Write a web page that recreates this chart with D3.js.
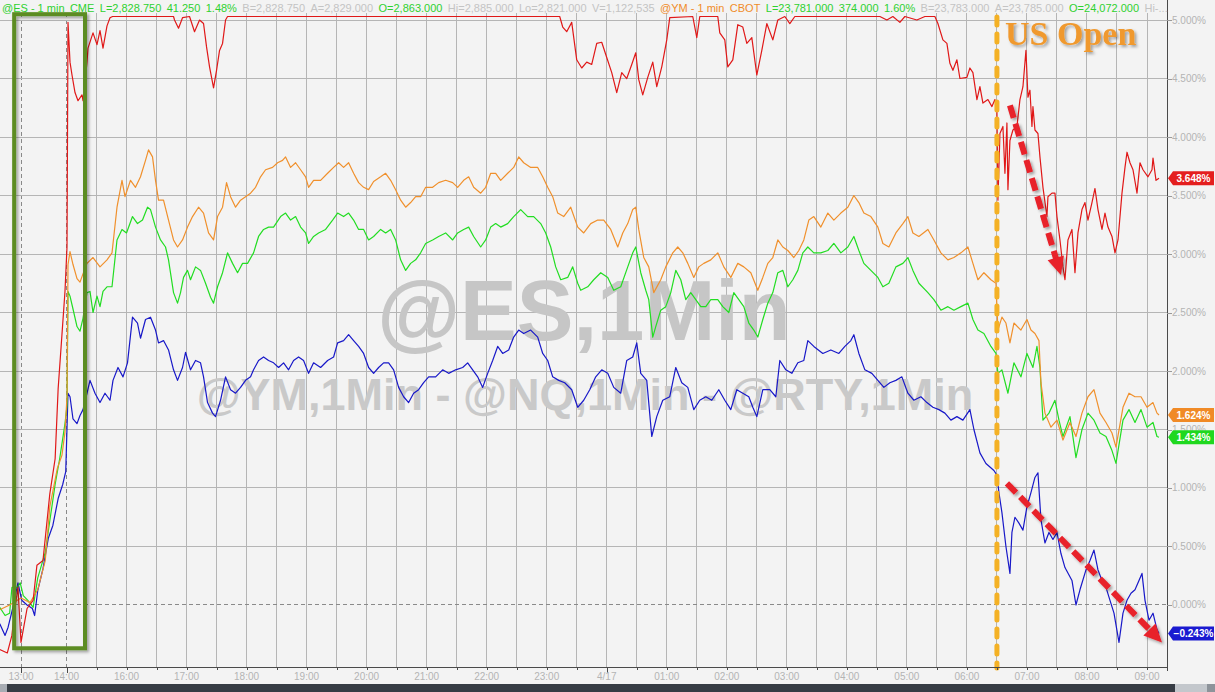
<!DOCTYPE html>
<html><head><meta charset="utf-8">
<script src="https://cdn.jsdelivr.net/npm/d3@7"></script>
<style>html,body{margin:0;padding:0;background:#f3f3f3;overflow:hidden}svg{display:block}</style>
</head><body><svg id="c" width="1215" height="692"></svg>
<script>
// ---- DATA: time = minutes after 12:00 on 4/16, value = % change ----
const rty = [[32,-0.38],[42,-0.41],[48,-0.26],[52,-0.03],[56,0.15],[60,-0.32],[68,-0.03],[76,0.04],[81,0.34],[89,0.38],[98,0.95],[105,1.25],[109,1.85],[114,2.31],[118,2.68],[121,3.06],[123,4.98],[127,4.64],[131,4.53],[137,4.38],[143,4.31],[151,4.36],[153,4.31],[161,4.64],[163,4.76],[173,4.89],[181,4.79],[187,4.91],[193,4.76],[201,4.95],[207,5.02],[212,5.03],[287,5.03],[288,5.00],[292,4.93],[296,5.02],[303,5.03],[308,4.90],[313,5.00],[317,4.97],[320,4.77],[323,4.60],[327,4.42],[330,4.57],[333,4.74],[336,4.80],[339,5.00],[341,5.03],[673,5.03],[676,4.94],[680,4.90],[685,4.98],[690,4.66],[695,4.59],[700,4.64],[705,4.62],[710,4.80],[715,4.81],[720,4.68],[725,4.55],[730,4.38],[735,4.55],[740,4.50],[745,4.62],[749,4.72],[752,4.49],[756,4.36],[761,4.51],[766,4.64],[770,4.43],[775,4.60],[780,4.83],[783,5.02],[806,5.03],[810,4.85],[813,5.03],[831,5.03],[833,4.89],[838,4.83],[841,4.60],[846,4.66],[851,4.96],[856,4.94],[860,4.80],[865,4.85],[870,4.53],[875,4.74],[880,4.97],[886,4.83],[891,5.00],[898,5.03],[903,4.97],[908,5.03],[993,5.03],[1000,5.00],[1006,5.03],[1013,4.98],[1018,5.03],[1030,5.00],[1038,5.03],[1048,5.03],[1051,4.97],[1056,4.83],[1060,4.80],[1063,4.63],[1066,4.57],[1070,4.66],[1073,4.50],[1080,4.51],[1083,4.59],[1086,4.55],[1090,4.32],[1093,4.43],[1096,4.29],[1101,4.32],[1105,4.26],[1108,4.32],[1110,4.23],[1111,3.46],[1113,4.03],[1116,4.09],[1118,3.69],[1120,4.12],[1121,3.55],[1123,3.97],[1126,4.06],[1130,4.09],[1133,4.32],[1136,4.43],[1139,4.74],[1141,4.34],[1143,4.40],[1145,4.09],[1146,4.26],[1148,4.06],[1151,4.03],[1153,3.83],[1156,3.57],[1160,3.32],[1161,3.49],[1165,3.52],[1168,3.52],[1170,3.32],[1173,3.12],[1176,2.89],[1178,2.78],[1181,3.12],[1185,3.21],[1188,2.84],[1191,3.18],[1195,3.38],[1198,3.44],[1201,3.29],[1205,3.44],[1208,3.56],[1211,3.38],[1215,3.21],[1218,3.35],[1221,3.23],[1225,3.15],[1228,3.01],[1231,3.12],[1235,3.52],[1238,3.74],[1240,3.87],[1243,3.78],[1246,3.72],[1250,3.52],[1253,3.78],[1256,3.72],[1261,3.66],[1265,3.72],[1266,3.82],[1269,3.63],[1272,3.648]];
const ym = [[32,-0.04],[45,0.00],[60,0.06],[72,0.02],[82,0.13],[92,0.38],[98,0.84],[108,1.17],[114,1.28],[118,1.48],[121,1.78],[123,2.91],[127,3.02],[133,2.91],[141,2.79],[147,2.76],[153,2.83],[161,2.92],[173,2.97],[187,2.89],[201,2.95],[211,3.01],[221,3.40],[231,3.63],[237,3.49],[244,3.63],[249,3.57],[254,3.66],[259,3.80],[262,3.89],[266,3.83],[269,3.63],[272,3.46],[277,3.46],[282,3.29],[287,3.12],[291,3.06],[296,3.12],[301,3.23],[306,3.32],[312,3.40],[317,3.35],[322,3.18],[327,3.12],[331,3.32],[336,3.40],[340,3.61],[344,3.49],[349,3.40],[354,3.46],[359,3.49],[364,3.52],[369,3.57],[374,3.66],[379,3.72],[386,3.74],[391,3.78],[396,3.80],[399,3.83],[404,3.74],[409,3.78],[414,3.72],[419,3.66],[422,3.57],[427,3.63],[434,3.63],[441,3.69],[447,3.74],[452,3.78],[457,3.74],[462,3.78],[467,3.69],[472,3.61],[477,3.57],[482,3.55],[487,3.62],[494,3.66],[499,3.69],[504,3.63],[509,3.55],[514,3.46],[519,3.40],[524,3.44],[529,3.49],[534,3.49],[539,3.57],[546,3.57],[552,3.61],[559,3.63],[566,3.61],[571,3.57],[577,3.63],[582,3.66],[587,3.57],[594,3.52],[599,3.57],[604,3.69],[609,3.69],[614,3.63],[621,3.69],[627,3.74],[632,3.83],[637,3.78],[644,3.74],[651,3.74],[656,3.66],[661,3.57],[666,3.49],[671,3.35],[677,3.32],[684,3.40],[691,3.23],[697,3.18],[704,3.26],[711,3.29],[717,3.29],[724,3.21],[731,3.06],[736,3.18],[741,3.26],[746,3.38],[749,3.40],[752,3.21],[757,2.97],[762,2.89],[767,2.67],[774,2.78],[779,2.89],[786,3.01],[791,3.06],[796,3.01],[801,2.92],[807,2.80],[812,2.89],[817,2.92],[824,2.95],[831,3.01],[837,2.89],[844,2.80],[851,2.92],[857,2.89],[864,2.84],[871,2.69],[876,2.80],[881,2.92],[886,2.97],[891,3.12],[896,3.06],[901,3.03],[907,2.97],[912,3.03],[917,3.12],[922,3.29],[927,3.32],[934,3.23],[941,3.35],[947,3.29],[954,3.35],[961,3.40],[967,3.50],[972,3.44],[977,3.35],[984,3.32],[991,3.23],[996,3.09],[1002,3.06],[1009,3.18],[1016,3.26],[1021,3.32],[1026,3.18],[1032,3.15],[1041,3.21],[1047,3.12],[1054,3.01],[1061,2.95],[1067,2.97],[1074,3.01],[1081,3.06],[1086,2.92],[1091,2.78],[1097,2.84],[1104,2.78],[1109,2.75],[1111,2.35],[1115,2.46],[1119,2.41],[1123,2.24],[1127,2.41],[1134,2.35],[1140,2.44],[1144,2.35],[1148,2.32],[1152,2.26],[1154,1.90],[1158,1.64],[1164,1.52],[1170,1.58],[1176,1.41],[1183,1.56],[1189,1.44],[1195,1.64],[1201,1.78],[1207,1.84],[1213,1.64],[1219,1.56],[1225,1.47],[1229,1.35],[1236,1.69],[1242,1.81],[1248,1.78],[1254,1.78],[1260,1.69],[1266,1.73],[1270,1.64],[1272,1.624]];
const es = [[32,-0.02],[39,-0.09],[45,-0.07],[48,0.15],[55,0.15],[59,0.19],[63,0.08],[69,0.04],[76,-0.02],[82,0.23],[92,0.45],[98,0.72],[105,1.03],[111,1.25],[118,1.55],[121,1.70],[123,2.68],[127,2.64],[133,2.53],[141,2.38],[147,2.34],[153,2.45],[161,2.67],[167,2.68],[173,2.50],[181,2.64],[187,2.55],[193,2.68],[201,2.72],[211,2.72],[221,3.12],[231,3.21],[240,3.18],[246,3.32],[251,3.26],[256,3.29],[261,3.40],[264,3.38],[269,3.23],[274,3.12],[279,3.06],[282,2.95],[287,2.67],[291,2.58],[294,2.67],[297,2.80],[301,2.86],[304,2.78],[309,2.89],[314,2.86],[319,2.75],[324,2.63],[327,2.58],[331,2.72],[336,2.84],[341,3.01],[346,2.92],[351,2.84],[356,2.92],[361,2.92],[367,3.01],[372,3.15],[377,3.21],[382,3.23],[387,3.23],[394,3.32],[399,3.35],[404,3.29],[409,3.32],[414,3.23],[419,3.18],[422,3.09],[427,3.15],[432,3.18],[439,3.21],[446,3.29],[451,3.35],[457,3.32],[462,3.35],[467,3.29],[472,3.21],[477,3.21],[482,3.12],[487,3.15],[494,3.21],[499,3.18],[504,3.21],[509,3.12],[514,2.95],[519,2.86],[524,2.92],[529,2.95],[534,3.01],[539,3.09],[546,3.12],[552,3.15],[559,3.18],[566,3.12],[571,3.18],[577,3.21],[582,3.23],[587,3.15],[594,3.06],[599,3.12],[604,3.23],[609,3.26],[614,3.23],[621,3.26],[627,3.32],[634,3.38],[641,3.32],[647,3.32],[654,3.26],[659,3.18],[664,3.06],[669,2.89],[674,2.78],[681,2.80],[686,2.89],[691,2.75],[694,2.69],[701,2.72],[707,2.78],[714,2.84],[721,2.80],[727,2.69],[734,2.72],[741,2.89],[746,3.01],[749,3.06],[754,2.84],[759,2.69],[762,2.61],[766,2.29],[769,2.38],[774,2.52],[779,2.55],[784,2.67],[789,2.86],[794,2.78],[799,2.61],[804,2.67],[809,2.61],[814,2.55],[819,2.55],[824,2.61],[831,2.61],[836,2.55],[842,2.50],[847,2.67],[852,2.61],[857,2.55],[862,2.41],[867,2.35],[871,2.29],[876,2.44],[881,2.58],[886,2.67],[891,2.84],[896,2.86],[901,2.72],[906,2.78],[911,2.86],[916,3.01],[921,3.06],[927,3.01],[934,3.01],[941,3.03],[947,3.09],[954,3.01],[961,3.06],[967,3.15],[972,3.03],[977,2.92],[984,2.86],[991,2.80],[996,2.72],[1002,2.75],[1009,2.89],[1016,2.92],[1021,2.97],[1026,2.86],[1032,2.75],[1041,2.67],[1047,2.61],[1054,2.52],[1061,2.55],[1067,2.52],[1074,2.55],[1081,2.58],[1086,2.44],[1091,2.35],[1097,2.32],[1104,2.21],[1109,2.15],[1111,1.98],[1115,2.01],[1121,1.81],[1127,2.07],[1134,1.95],[1140,2.15],[1146,2.03],[1150,2.21],[1153,2.03],[1156,1.58],[1162,1.64],[1168,1.75],[1172,1.58],[1176,1.44],[1183,1.61],[1189,1.26],[1195,1.50],[1201,1.64],[1207,1.58],[1213,1.47],[1219,1.44],[1225,1.32],[1229,1.21],[1236,1.58],[1242,1.67],[1248,1.56],[1254,1.67],[1260,1.52],[1266,1.56],[1270,1.44],[1272,1.434]];
const nq = [[32,-0.16],[39,-0.26],[43,-0.19],[49,-0.03],[56,0.19],[61,0.04],[68,0.00],[75,-0.03],[78,-0.09],[82,0.12],[89,0.31],[96,0.57],[102,0.68],[109,0.91],[115,1.03],[119,1.14],[123,1.81],[127,1.78],[133,1.59],[141,1.55],[147,1.62],[153,1.67],[161,1.81],[167,1.92],[177,1.81],[187,1.73],[197,1.81],[207,1.75],[213,1.92],[223,2.03],[233,1.95],[241,2.07],[246,2.46],[251,2.41],[254,2.28],[259,2.44],[264,2.46],[269,2.35],[272,2.24],[277,2.26],[282,2.18],[287,2.01],[291,1.92],[296,2.03],[299,2.16],[304,2.01],[309,2.09],[314,2.07],[317,1.95],[321,1.73],[326,1.64],[329,1.61],[334,1.75],[339,1.95],[344,1.84],[349,1.81],[354,1.86],[359,1.92],[364,1.95],[367,2.01],[372,2.09],[377,2.12],[382,2.09],[387,2.07],[392,2.03],[397,2.07],[402,2.01],[407,2.09],[412,2.12],[417,2.09],[422,1.98],[427,2.07],[434,2.03],[441,2.09],[447,2.12],[451,2.24],[457,2.26],[462,2.31],[467,2.26],[472,2.21],[477,2.15],[482,2.03],[487,1.98],[492,2.03],[497,2.07],[502,2.07],[507,2.01],[512,1.86],[517,1.78],[522,1.73],[527,1.81],[532,1.84],[537,1.90],[542,1.95],[549,1.95],[556,2.01],[562,1.98],[569,2.01],[576,2.03],[581,2.07],[586,2.01],[591,1.95],[596,1.86],[601,1.98],[606,2.09],[611,2.21],[616,2.15],[622,2.18],[627,2.29],[632,2.35],[637,2.32],[644,2.35],[651,2.29],[656,2.15],[661,2.09],[666,1.95],[672,1.92],[678,1.90],[685,1.84],[691,1.69],[697,1.75],[703,1.84],[709,1.95],[715,2.01],[721,1.98],[727,1.86],[734,1.81],[740,2.09],[746,2.12],[750,2.24],[754,1.98],[760,1.92],[765,1.44],[770,1.61],[776,1.75],[783,1.78],[789,2.03],[795,1.90],[801,1.86],[807,1.67],[813,1.75],[819,1.78],[825,1.75],[832,1.84],[838,1.75],[844,1.67],[850,1.84],[856,1.81],[862,1.78],[866,1.69],[870,1.61],[876,1.84],[883,1.84],[889,1.78],[893,2.09],[899,2.01],[905,1.98],[911,2.07],[917,2.09],[921,2.26],[927,2.21],[936,2.15],[944,2.18],[952,2.15],[958,2.21],[964,2.26],[967,2.31],[972,2.15],[978,2.01],[985,1.98],[991,1.92],[997,1.86],[1003,1.90],[1009,1.92],[1015,1.95],[1021,1.81],[1027,1.75],[1034,1.78],[1040,1.73],[1046,1.69],[1052,1.67],[1058,1.64],[1064,1.58],[1070,1.61],[1076,1.58],[1083,1.67],[1087,1.50],[1093,1.30],[1099,1.21],[1103,1.18],[1107,1.15],[1110,1.11],[1112,0.96],[1115,0.79],[1119,0.50],[1123,0.27],[1125,0.62],[1128,0.75],[1132,0.70],[1136,0.64],[1140,0.84],[1144,0.96],[1148,1.09],[1151,1.13],[1154,0.73],[1158,0.53],[1162,0.62],[1166,0.56],[1170,0.62],[1174,0.44],[1178,0.32],[1185,0.21],[1189,0.00],[1193,0.13],[1199,0.30],[1203,0.38],[1207,0.47],[1211,0.30],[1215,0.21],[1219,0.15],[1223,0.04],[1227,-0.07],[1232,-0.32],[1236,-0.07],[1240,0.04],[1244,0.10],[1248,0.13],[1252,0.21],[1255,0.27],[1258,0.04],[1262,-0.13],[1266,-0.07],[1270,-0.21],[1272,-0.243]];

const xLabelTimes = [60,120,240,300,360,420,480,540,600,660,720,780,840,900,960,1020,1080,1140,1200,1260];
const xLabelTexts = ["13:00","14:00","16:00","17:00","18:00","19:00","20:00","21:00","22:00","23:00","4/17","01:00","02:00","03:00","04:00","05:00","06:00","07:00","08:00","09:00"];
const yTickValues = [0,0.5,1,1.5,2,2.5,3,3.5,4,4.5,5];
const headerTexts = ["@ES - 1 min","CME","L=2,828.750","41.250","1.48%","B=2,828.750","A=2,829.000","O=2,863.000","Hi=2,885.000","Lo=2,821.000","V=1,122,535","@YM - 1 min","CBOT","L=23,781.000","374.000","1.60%","B=23,783.000","A=23,785.000","O=24,072.000","Hi-..."];
const headerKinds = ["es","es","up","up","up","dim","dim","up","dim","dim","dim","ym","ym","up","up","up","dim","dim","up","dim"];
const usOpenTime = 1110;
const boxStart = 51, boxEnd = 157, boxTop = 5.05, boxBottom = -0.37;
const arrows = [[[1123,4.27],[1174,2.82]],[[1120,1.04],[1275,-0.32]]];

// ---- DRAW ----
const svg = d3.select("#c");
const W = 1215, H = 692, plotR = 1167, plotB = 667, plotT = 13;
const x = d3.scaleLinear().domain([60,120,240,1260]).range([21,66.5,126.5,1147]);
const y = d3.scaleLinear().domain([-0.53,5.06]).range([plotB,plotT]);
const FONT = "'Liberation Sans', Arial, sans-serif";

svg.append("rect").attr("width",W).attr("height",H).attr("fill","#f3f3f3");
const defs = svg.append("defs");
defs.append("clipPath").attr("id","clip").append("rect").attr("x",0).attr("y",0).attr("width",plotR).attr("height",plotB);
const sh = defs.append("filter").attr("id","shadow").attr("x","-20%").attr("y","-20%").attr("width","140%").attr("height","140%");
sh.append("feDropShadow").attr("dx",2).attr("dy",2).attr("stdDeviation",1.5).attr("flood-color","#000").attr("flood-opacity",0.35);

// grid
const gridTicks = [180].concat(d3.range(240,1261,30));
const g = svg.append("g");
g.selectAll("line.v").data(gridTicks).join("line")
  .attr("x1",d=>x(d)).attr("x2",d=>x(d)).attr("y1",plotT).attr("y2",plotB)
  .attr("stroke","#b5b5b5").attr("stroke-width",1).attr("shape-rendering","crispEdges");
g.selectAll("line.vd").data([60,120]).join("line")
  .attr("x1",d=>x(d)).attr("x2",d=>x(d)).attr("y1",plotT).attr("y2",plotB)
  .attr("stroke","#8a8a8a").attr("stroke-dasharray","4,3").attr("stroke-width",1).attr("shape-rendering","crispEdges");
g.selectAll("line.h").data(yTickValues).join("line")
  .attr("x1",0).attr("x2",plotR).attr("y1",d=>y(d)).attr("y2",d=>y(d))
  .attr("stroke",d=>d===0?"#8a8a8a":"#b5b5b5").attr("stroke-dasharray",d=>d===0?"4,3":null)
  .attr("shape-rendering","crispEdges");

// watermark
svg.append("text").attr("x",584).attr("y",340).attr("text-anchor","middle")
  .attr("font-family",FONT).attr("font-weight","bold").attr("font-size",85)
  .attr("fill","#c6c6c6").text("@ES,1Min");
svg.append("text").attr("x",585).attr("y",410).attr("text-anchor","middle")
  .attr("font-family",FONT).attr("font-weight","bold").attr("font-size",45)
  .attr("fill","#c9c9c9").text("@YM,1Min - @NQ,1Min - @RTY,1Min");

// series
const line = d3.line().x(d=>x(d[0])).y(d=>y(d[1]));
const series = [[nq,"#1818c8"],[es,"#22dd22"],[ym,"#f0902c"],[rty,"#e01818"]];
const lg = svg.append("g").attr("clip-path","url(#clip)");
series.forEach(([data,col])=>{
  lg.append("path").datum(data).attr("d",line).attr("fill","none").attr("stroke",col).attr("stroke-width",1.2).attr("stroke-linejoin","round");
});

// green box
svg.append("rect").attr("x",x(boxStart)).attr("y",y(boxTop)).attr("width",x(boxEnd)-x(boxStart)).attr("height",y(boxBottom)-y(boxTop))
  .attr("fill","none").attr("stroke","#5b8c22").attr("stroke-width",4).attr("filter","url(#shadow)");

// US open line
svg.append("line").attr("x1",x(usOpenTime)).attr("x2",x(usOpenTime)).attr("y1",17).attr("y2",668)
  .attr("stroke","#f4b125").attr("stroke-width",5).attr("stroke-dasharray","8,9").attr("stroke-linecap","round");
svg.append("text").attr("x",1005).attr("y",45).attr("font-family","'Liberation Serif','Times New Roman',serif")
  .attr("font-weight","bold").attr("font-size",34).attr("fill","#f0992e").attr("filter","url(#shadow)").text("US Open");

// red arrows
arrows.forEach(([s,e])=>{
  const sx=x(s[0]), sy=y(s[1]), ex=x(e[0]), ey=y(e[1]);
  const dx=ex-sx, dy=ey-sy, L=Math.hypot(dx,dy), ux=dx/L, uy=dy/L, nx=-uy, ny=ux;
  const hl=18, hw=8.5, bx=ex-ux*hl, by=ey-uy*hl;
  const ag = svg.append("g").attr("filter","url(#shadow)");
  ag.append("line").attr("x1",sx).attr("y1",sy).attr("x2",bx+ux*2).attr("y2",by+uy*2)
    .attr("stroke","#e8202a").attr("stroke-width",6).attr("stroke-dasharray","13,6");
  ag.append("path").attr("d",`M${ex},${ey}L${bx+nx*hw},${by+ny*hw}L${bx-nx*hw},${by-ny*hw}Z`).attr("fill","#e8202a");
});

// axes
svg.append("line").attr("x1",plotR+0.5).attr("x2",plotR+0.5).attr("y1",0).attr("y2",plotB+4).attr("stroke","#4a4a4a");
svg.append("line").attr("x1",0).attr("x2",plotR).attr("y1",plotB+0.5).attr("y2",plotB+0.5).attr("stroke","#4a4a4a");
svg.selectAll("line.yt").data(yTickValues).join("line")
  .attr("x1",plotR).attr("x2",plotR+5).attr("y1",d=>Math.round(y(d))+0.5).attr("y2",d=>Math.round(y(d))+0.5).attr("stroke","#9a9a9a");
svg.selectAll("text.yl").data(yTickValues).join("text")
  .attr("x",plotR+5).attr("y",d=>y(d)).attr("dy","0.35em")
  .attr("font-family",FONT).attr("font-size",10).attr("fill","#b4b4b4")
  .text(d=>d3.format(".3f")(d)+"%");
const allTicks = [60,120].concat(gridTicks);
svg.selectAll("line.xt").data(allTicks).join("line")
  .attr("x1",d=>Math.round(x(d))+0.5).attr("x2",d=>Math.round(x(d))+0.5)
  .attr("y1",plotB).attr("y2",d=>(d===60||d===120||d===720)?plotB+6:plotB+3).attr("stroke","#4a4a4a");
svg.selectAll("text.xl").data(xLabelTimes).join("text")
  .attr("x",d=>x(d)).attr("y",680).attr("text-anchor","middle")
  .attr("font-family",FONT).attr("font-size",10).attr("fill","#b4b4b4")
  .text((d,i)=>xLabelTexts[i]);

// last value labels
const labelColors = [[rty,"#e41e1e"],[ym,"#f08a26"],[es,"#1fd81f"],[nq,"#1a1ad0"]];
labelColors.forEach(([data,col])=>{
  const v = data[data.length-1][1], cy = y(v);
  svg.append("path").attr("d",`M${plotR+1},${cy}L${plotR+6},${cy-7}H${W-1}V${cy+7}H${plotR+6}Z`).attr("fill",col);
  svg.append("text").attr("x",(plotR+6+W-1)/2).attr("y",cy).attr("dy","0.36em").attr("text-anchor","middle")
    .attr("font-family",FONT).attr("font-weight","bold").attr("font-size",10).attr("fill","#fff")
    .text(d3.format(".3f")(v)+"%");
});

// header
const hcol = {es:"#2fd12f", up:"#2fd12f", dim:"#c4c4c4", ym:"#f08c2a"};
let hx = 2;
headerTexts.forEach((t,i)=>{
  const el = svg.append("text").attr("x",hx).attr("y",12).attr("font-family",FONT).attr("font-size",11)
    .attr("fill",hcol[headerKinds[i]]).text(t);
  hx += el.node().getComputedTextLength() + 5.4;
});

// bottom bar
svg.append("rect").attr("x",0).attr("y",684).attr("width",W).attr("height",8).attr("fill","#363c44");
svg.append("rect").attr("x",0).attr("y",684).attr("width",7).attr("height",8).attr("fill","#a7acb3");
svg.append("rect").attr("x",1175).attr("y",684).attr("width",32).attr("height",8).attr("fill","#c3c7cc");
svg.append("rect").attr("x",1207).attr("y",684).attr("width",8).attr("height",8).attr("fill","#8d939a");
</script></body></html>
